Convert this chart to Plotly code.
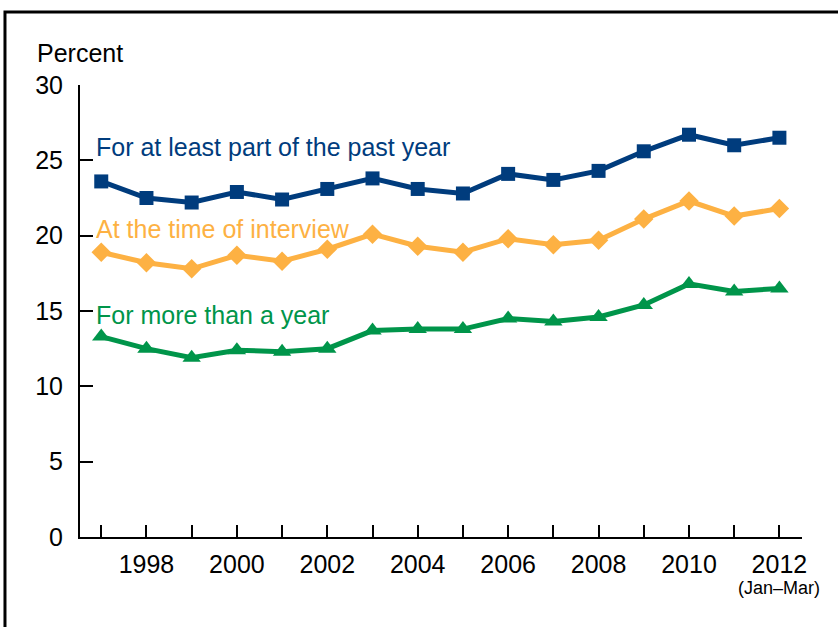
import plotly.graph_objects as go

years = list(range(1997, 2013))
past_year = [23.6, 22.5, 22.2, 22.9, 22.4, 23.1, 23.8, 23.1, 22.8, 24.1, 23.7, 24.3, 25.6, 26.7, 26.0, 26.5]
at_interview = [18.9, 18.2, 17.8, 18.7, 18.3, 19.1, 20.1, 19.3, 18.9, 19.8, 19.4, 19.7, 21.1, 22.3, 21.3, 21.8]
more_than_year = [13.3, 12.5, 11.9, 12.4, 12.3, 12.5, 13.7, 13.8, 13.8, 14.5, 14.3, 14.6, 15.4, 16.8, 16.3, 16.5]

series_names = ["For at least part of the past year", "At the time of interview", "For more than a year"]
series_label_y = [25.9, 20.45, 14.75]
y_ticks = [0, 5, 10, 15, 20, 25, 30]
x_tick_labels = [str(y) if y % 2 == 0 else "" for y in years]

colors = ["#003c7d", "#fdb143", "#00954a"]
symbols = ["square", "diamond", "triangle-up"]
sizes = [14, 15, 16]
FONT = "Liberation Sans, Arial, sans-serif"

fig = go.Figure()
for vals, name, c, s, sz in zip([past_year, at_interview, more_than_year], series_names, colors, symbols, sizes):
    fig.add_trace(go.Scatter(
        x=years, y=vals, mode="lines+markers", name=name,
        line=dict(color=c, width=5),
        marker=dict(symbol=s, size=sz, color=c),
        showlegend=False, cliponaxis=False,
    ))

for name, ly, c in zip(series_names, series_label_y, colors):
    fig.add_annotation(x=1996.85, y=ly, xref="x", yref="y", text=name, showarrow=False,
                       xanchor="left", yanchor="middle", font=dict(family=FONT, size=25, color=c))

fig.add_annotation(x=-0.0623, y=1.07, xref="paper", yref="paper", text="Percent", showarrow=False,
                   xanchor="left", yanchor="middle", font=dict(family=FONT, size=25, color="black"))
fig.add_annotation(x=2012, y=-0.113, xref="x", yref="paper", text="(Jan\u2013Mar)", showarrow=False,
                   xanchor="center", yanchor="middle", font=dict(family=FONT, size=18, color="black"))

# figure frame (left and top edges)
fig.add_shape(type="path", xref="paper", yref="paper",
              path="M -0.1039 -0.25 L -0.1039 1.1615 L 1.08 1.1615",
              line=dict(color="black", width=3))

fig.update_layout(
    width=838, height=627,
    margin=dict(l=80, r=36, t=85, b=90),
    paper_bgcolor="white", plot_bgcolor="white",
    font=dict(family=FONT, size=25, color="black"),
)
fig.update_xaxes(
    range=[1996.53, 2012.5], tickmode="array", tickvals=years, ticktext=x_tick_labels,
    ticks="inside", ticklen=12, tickwidth=2, tickcolor="black",
    showline=True, linecolor="black", linewidth=2, showgrid=False, zeroline=False,
    ticklabelstandoff=4,
)
fig.update_yaxes(
    range=[0, 30], tickmode="array", tickvals=y_ticks,
    ticks="inside", ticklen=13, tickwidth=2, tickcolor="black",
    showline=True, linecolor="black", linewidth=2, showgrid=False, zeroline=False,
    ticklabelstandoff=10,
)

fig.write_html("out.html", config={"displayModeBar": False},
               post_script="document.body.style.margin='0';document.body.style.overflow='hidden';")
